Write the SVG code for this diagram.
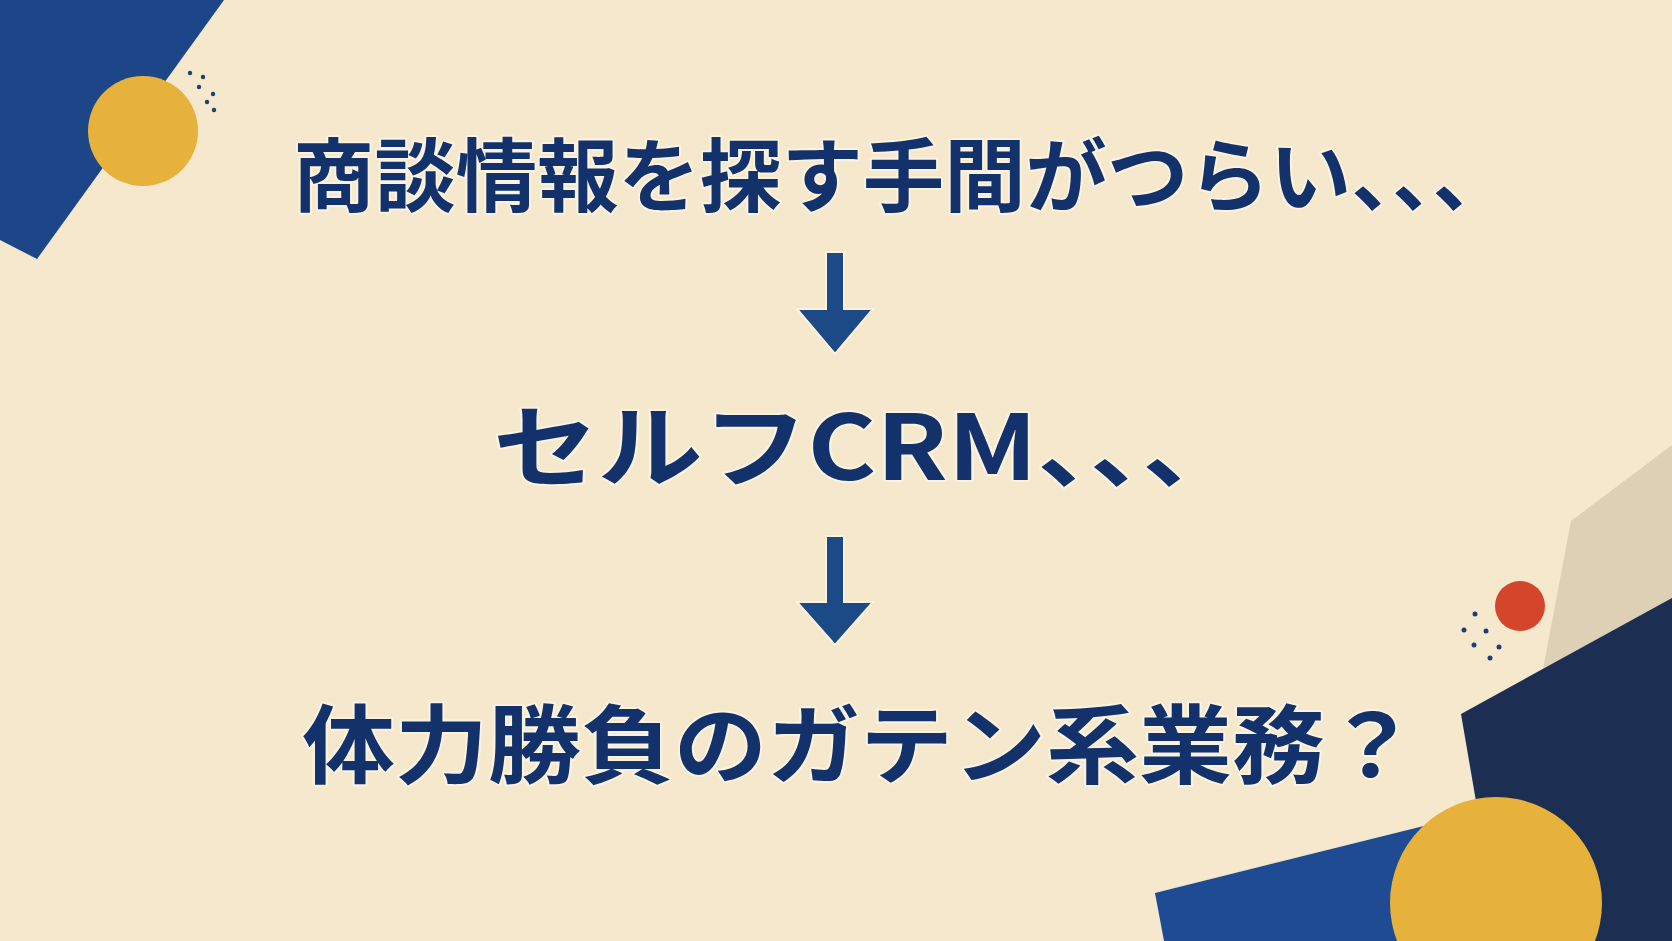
<svg xmlns="http://www.w3.org/2000/svg" width="1672" height="941" viewBox="0 0 1672 941">
<style>
.t{font-family:"Noto Sans CJK JP","Noto Sans",sans-serif;font-weight:700;fill:#13326b;stroke:#fbf3e2;stroke-width:4;paint-order:stroke;stroke-linejoin:round}
.ar{fill:#1c4a86;stroke:#fbf3e2;stroke-width:2}
.d{fill:#1c3f7a}
</style>
<rect width="1672" height="941" fill="#f5e8cc"/>
<g id="deco-tl">
<polygon points="0,0 224,0 37,259 0,240" fill="#1d4688"/>
<circle cx="143" cy="131" r="55" fill="#e7b23c"/>
<circle class="d" cx="190" cy="73" r="2.2"/><circle class="d" cx="203" cy="77" r="2.2"/><circle class="d" cx="199" cy="87" r="2.2"/><circle class="d" cx="213" cy="94" r="2.2"/><circle class="d" cx="207" cy="102" r="2.2"/><circle class="d" cx="214" cy="110" r="2.2"/>
</g>
<g id="deco-br">
<polygon points="1571,521 1672,445 1672,600 1543,669" fill="#ddd0b4"/>
<polygon points="1461,714 1672,598 1672,941 1500,941" fill="#1c2f52"/>
<polygon points="1155,893 1480,812 1500,941 1164,941" fill="#1e4b92"/>
<circle cx="1496" cy="903" r="106" fill="#e7b23c"/>
<circle cx="1520" cy="606" r="25" fill="#d4462a"/>
<circle class="d" cx="1475" cy="614" r="2.5"/><circle class="d" cx="1464" cy="630" r="2.5"/><circle class="d" cx="1486" cy="631" r="2.5"/><circle class="d" cx="1474" cy="645" r="2.5"/><circle class="d" cx="1499" cy="647" r="2.5"/><circle class="d" cx="1490" cy="658" r="2.5"/>
</g>
<g id="connectors">
<polygon class="ar" points="826,252 844,252 844,309 873,309 835,354 797,309 826,309"/>
<polygon class="ar" points="826,536 844,536 844,602 873,602 835,645 797,602 826,602"/>
</g>
<g id="n1"><text class="t" x="293" y="205" font-size="80" textLength="1221" lengthAdjust="spacingAndGlyphs">商談情報を探す手間がつらい、、、</text></g>
<g id="n2"><text class="t" x="493" y="480" font-size="90" textLength="754" lengthAdjust="spacingAndGlyphs">セルフCRM、、、</text></g>
<g id="n3"><text class="t" x="302" y="777" font-size="86" textLength="1116" lengthAdjust="spacingAndGlyphs">体力勝負のガテン系業務？</text></g>
</svg>
